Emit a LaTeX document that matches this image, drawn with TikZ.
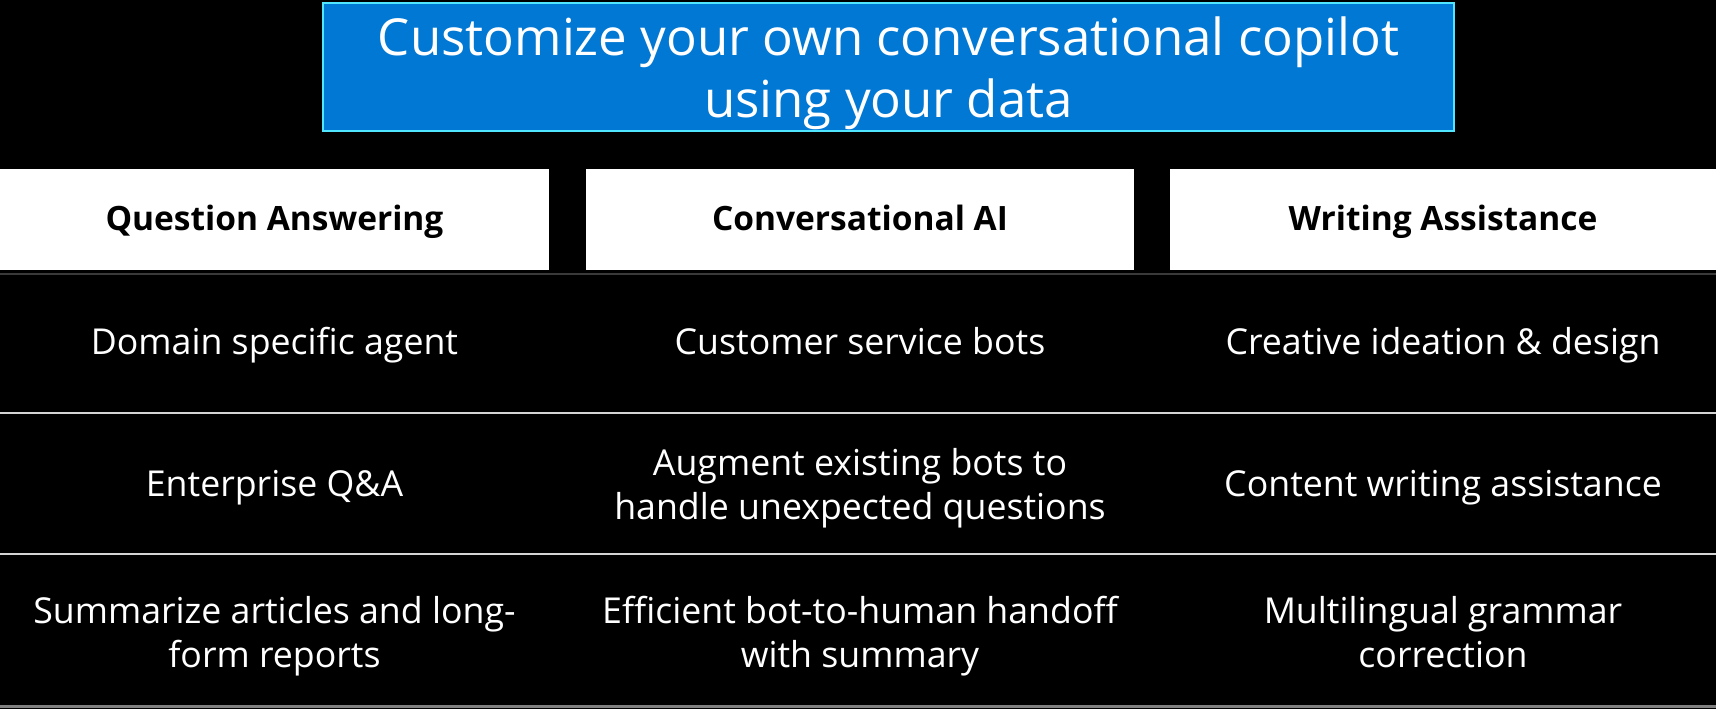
\documentclass[tikz,border=0pt]{standalone}
\usepackage{fontspec}
\setmainfont{Open Sans}
\definecolor{titleblue}{HTML}{0078D4}
\definecolor{titleedge}{HTML}{50E6FF}
\definecolor{rowrule}{HTML}{D4D4D4}
\definecolor{headrule}{HTML}{3A3A3A}
\begin{document}
\begin{tikzpicture}[x=1pt,y=-1pt,
  titlebox/.style={draw=titleedge, line width=2pt, fill=titleblue,
    minimum width=1131pt, minimum height=128pt, inner sep=0pt},
  titletext/.style={text=white, inner sep=0pt, align=center, anchor=base,
    font=\fontsize{51}{62}\selectfont},
  headbox/.style={fill=white, text=black, inner sep=0pt, minimum height=101pt,
    text height=22.5pt, text depth=0pt,
    font=\fontsize{33.5}{40}\selectfont\bfseries},
  celltext/.style={text=white, inner sep=0pt, align=center, anchor=base,
    font=\fontsize{35.7}{44}\selectfont},
  sepline/.style={draw=rowrule, line width=2.2pt},
  headline/.style={draw=headrule, line width=1.5pt}]
\fill[black] (0,0) rectangle (1716,709);
\useasboundingbox (0,0) rectangle (1716,709);
% title (anchor=base is the baseline of the last line)
\node[titlebox] (title) at (888.5,67) {};
\node[titletext] (titletxt) at (888.5,117) {Customize your own conversational copilot\\using your data};
% headers
\node[headbox, minimum width=549pt] (h1) at (274.5,219.5) {Question Answering};
\node[headbox, minimum width=548pt] (h2) at (860,219.5) {Conversational AI};
\node[headbox, minimum width=546pt] (h3) at (1443,219.5) {Writing Assistance};
% separators
\coordinate (l0a) at (0,274); \coordinate (l0b) at (1716,274);
\coordinate (l1a) at (0,413); \coordinate (l1b) at (1716,413);
\coordinate (l2a) at (0,554); \coordinate (l2b) at (1716,554);
\coordinate (l3a) at (0,706.5); \coordinate (l3b) at (1716,706.5);
\draw[headline] (l0a) -- (l0b);
\draw[sepline] (l1a) -- (l1b);
\draw[sepline] (l2a) -- (l2b);
\draw[sepline, draw=gray] (l3a) -- (l3b);
% row 1
\node[celltext] (c11) at (274.5,354) {Domain specific agent};
\node[celltext] (c12) at (860,354) {Customer service bots};
\node[celltext] (c13) at (1443,354) {Creative ideation \& design};
% row 2
\node[celltext] (c21) at (274.5,496) {Enterprise Q\&A};
\node[celltext] (c22) at (860,519) {Augment existing bots to\\handle unexpected questions};
\node[celltext] (c23) at (1443,496) {Content writing assistance};
% row 3
\node[celltext] (c31) at (274.5,667) {Summarize articles and long-\\form reports};
\node[celltext] (c32) at (860,667) {Efficient bot-to-human handoff\\with summary};
\node[celltext] (c33) at (1443,667) {Multilingual grammar\\correction};
\end{tikzpicture}
\end{document}
